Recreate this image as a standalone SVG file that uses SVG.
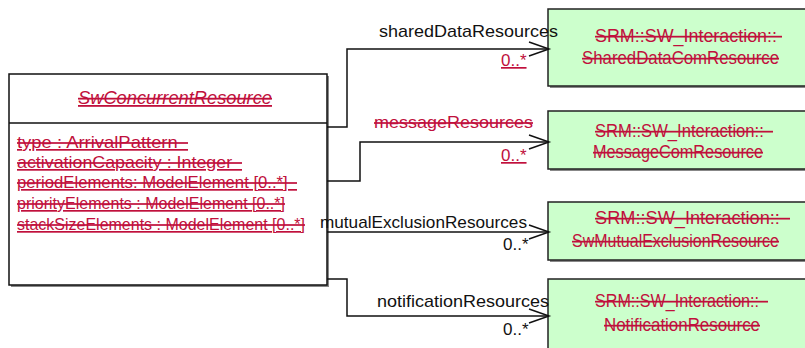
<svg xmlns="http://www.w3.org/2000/svg" width="805" height="348" viewBox="0 0 805 348">
<style>
text{font-family:"Liberation Sans",Arial,sans-serif;}
.red{fill:#c0103c;}
.blk{fill:#111;}
.us{text-decoration:underline line-through;}
.st{text-decoration:line-through;}
.ul{text-decoration:underline;}
.attr{font-size:17px;}
.lbl{font-size:17px;}
.cls{font-size:18px;font-style:italic;}
.gt{font-size:17.5px;}
.box{fill:#fff;stroke:#111;stroke-width:1.5;}
.gbox{fill:#ccffcc;stroke:#222;stroke-width:1.5;}
.shadow{fill:#888;}
.conn path{fill:none;stroke:#111;stroke-width:1.5;}
</style>
<g id="SwConcurrentResource">
<rect class="shadow" x="11" y="76" width="318" height="211"/>
<rect class="box" x="9" y="74" width="318" height="211"/>
<line x1="9" y1="123" x2="327" y2="123" stroke="#111" stroke-width="1.5"/>
<text class="cls red us" x="175" y="104" text-anchor="middle" textLength="194" lengthAdjust="spacingAndGlyphs">SwConcurrentResource</text>
<text class="attr red us" x="17" y="148" textLength="171" lengthAdjust="spacingAndGlyphs">type : ArrivalPattern&#160;&#160;</text>
<text class="attr red us" x="17" y="168" textLength="225" lengthAdjust="spacingAndGlyphs">activationCapacity : Integer&#160;&#160;</text>
<text class="attr red us" x="17" y="188" textLength="280" lengthAdjust="spacingAndGlyphs">periodElements: ModelElement [0..*]&#160;&#160;</text>
<text class="attr red us" x="17" y="209" textLength="268" lengthAdjust="spacingAndGlyphs">priorityElements : ModelElement [0..*]</text>
<text class="attr red us" x="17" y="230" textLength="288" lengthAdjust="spacingAndGlyphs">stackSizeElements : ModelElement [0..*]</text>
</g>
<g id="SharedDataComResource">
<rect class="shadow" x="550" y="11" width="270" height="77"/>
<rect class="gbox" x="548" y="9" width="270" height="77"/>
<text class="gt red st" x="595" y="42" textLength="187" lengthAdjust="spacingAndGlyphs">SRM::SW_Interaction::&#160;</text>
<text class="gt red st" x="582" y="64" textLength="197" lengthAdjust="spacingAndGlyphs">SharedDataComResource</text>
</g>
<g id="MessageComResource">
<rect class="shadow" x="550" y="113" width="270" height="58"/>
<rect class="gbox" x="548" y="111" width="270" height="58"/>
<text class="gt red st" x="595" y="137" textLength="178" lengthAdjust="spacingAndGlyphs">SRM::SW_Interaction::&#160;&#160;</text>
<text class="gt red st" x="593" y="158" textLength="170" lengthAdjust="spacingAndGlyphs">MessageComResource</text>
</g>
<g id="SwMutualExclusionResource">
<rect class="shadow" x="550" y="204" width="270" height="58"/>
<rect class="gbox" x="548" y="202" width="270" height="58"/>
<text class="gt red st" x="595" y="224" textLength="195" lengthAdjust="spacingAndGlyphs">SRM::SW_Interaction::&#160;&#160;</text>
<text class="gt red st" x="572" y="247" textLength="207" lengthAdjust="spacingAndGlyphs">SwMutualExclusionResource</text>
</g>
<g id="NotificationResource">
<rect class="shadow" x="550" y="281" width="270" height="80"/>
<rect class="gbox" x="548" y="279" width="270" height="80"/>
<text class="gt red st" x="595" y="307" textLength="173" lengthAdjust="spacingAndGlyphs">SRM::SW_Interaction::&#160;&#160;</text>
<text class="gt red st" x="604" y="331" textLength="156" lengthAdjust="spacingAndGlyphs">NotificationResource</text>
</g>
<g id="connectors" class="conn">
<path d="M327,127 H347 V49 H549"/>
<path d="M529,42 L549,49 L529,56"/>
<path d="M327,181 H360 V142 H549"/>
<path d="M529,135 L549,142 L529,149"/>
<path d="M327,232 H549"/>
<path d="M529,225 L549,232 L529,239"/>
<path d="M327,279 H347 V316 H549"/>
<path d="M529,309 L549,316 L529,323"/>
<text class="lbl blk" x="379" y="37" textLength="179" lengthAdjust="spacingAndGlyphs">sharedDataResources</text>
<text class="lbl red st" x="374" y="128" textLength="159" lengthAdjust="spacingAndGlyphs">messageResources</text>
<text class="lbl blk" x="320" y="228" textLength="207" lengthAdjust="spacingAndGlyphs">mutualExclusionResources</text>
<text class="lbl blk" x="377" y="307" textLength="172" lengthAdjust="spacingAndGlyphs">notificationResources</text>
<text class="lbl red ul" x="501" y="66">0..*</text>
<text class="lbl red ul" x="501" y="161">0..*</text>
<text class="lbl blk" x="503" y="250">0..*</text>
<text class="lbl blk" x="503" y="335">0..*</text>
</g>
</svg>
